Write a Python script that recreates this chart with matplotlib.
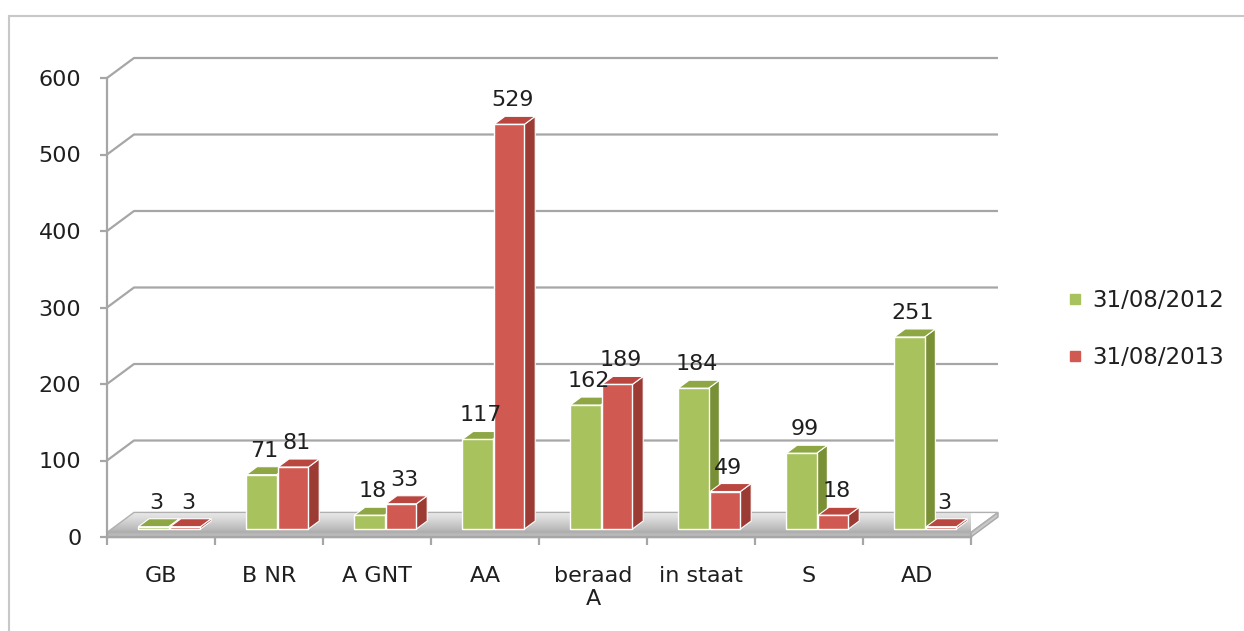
import matplotlib.pyplot as plt
from matplotlib.lines import Line2D
from matplotlib.patches import Rectangle, Polygon
import numpy as np

categories = ["GB", "B NR", "A GNT", "AA", "beraad\nA", "in staat", "S", "AD"]
series_names = ["31/08/2012", "31/08/2013"]
values_2012 = [3, 71, 18, 117, 162, 184, 99, 251]
values_2013 = [3, 81, 33, 529, 189, 49, 18, 3]
y_ticks = [0, 100, 200, 300, 400, 500, 600]

plt.rcParams['font.family'] = ['DejaVu Sans']
TXT = '#1f1f1f'
GRID = '#a6a6a6'

fig = plt.figure(figsize=(12.44, 6.31), dpi=100)
ax = fig.add_axes([107/1244, 94/631, 864/1244, 459/631])
ax.set_xlim(-0.5, 7.5)
ax.set_ylim(0, 600)

# fake depth: z=0 front plane, z=1 back wall
DX = 27/108
DY = 20/0.765
def proj(x, y, z):
    return x + z*DX, y + z*DY

n = len(categories)
x = np.arange(n)

# gridlines on side + back wall
for v in y_ticks[1:]:
    pts = [proj(-0.5, v, 0), proj(-0.5, v, 1), proj(n - 0.5, v, 1)]
    ax.plot([p[0] for p in pts], [p[1] for p in pts], color=GRID, lw=1.6,
            clip_on=False, zorder=1, solid_capstyle='butt')

# floor slab
H = 6
top = [proj(-0.5, H, 0), proj(n - 0.5, H, 0), proj(n - 0.5, H, 1), proj(-0.5, H, 1)]
front = [proj(-0.5, 0, 0), proj(n - 0.5, 0, 0), proj(n - 0.5, H, 0), proj(-0.5, H, 0)]
right = [proj(n - 0.5, 0, 0), proj(n - 0.5, 0, 1), proj(n - 0.5, H, 1), proj(n - 0.5, H, 0)]
top_poly = Polygon(top, closed=True, facecolor='none', edgecolor='#b0b0b0', lw=1,
                   clip_on=False, zorder=2.1)
ax.add_patch(top_poly)
grad = np.linspace(0, 1, 50)[:, None] * np.ones((1, 10))
im = ax.imshow(grad, extent=(-0.5, n - 0.5 + DX, H, H + DY), origin='lower',
               cmap='Greys_r', vmin=-2.2, vmax=1.6, aspect='auto', zorder=2,
               interpolation='bilinear')
im.set_clip_path(top_poly)
ax.fill(*zip(*front), facecolor='#b9b9b9', edgecolor='#a8a8a8', lw=1, clip_on=False, zorder=2)
ax.fill(*zip(*right), facecolor='#c9c9c9', edgecolor='#a8a8a8', lw=1, clip_on=False, zorder=2)
ax.set_xlim(-0.5, 7.5)
ax.set_ylim(0, 600)

# bars
Z0, Z1 = 0.4, 0.8
W = 0.28
offsets = [-0.31, -0.015]
colors = [('#a8c35d', '#8ea744', '#7a9036'), ('#d05a52', '#b9463f', '#9c3a34')]
for s, vals in enumerate([values_2012, values_2013]):
    fc, tc, sc = colors[s]
    zo = 3 + s
    x0 = x + offsets[s]
    ax.bar(x0 + Z0*DX, vals, W, bottom=Z0*DY, align='edge', color=fc,
           edgecolor='white', lw=1, clip_on=False, zorder=zo + 0.5)
    for xi, v in zip(x0, vals):
        topf = [proj(xi, v, Z0), proj(xi + W, v, Z0), proj(xi + W, v, Z1), proj(xi, v, Z1)]
        side = [proj(xi + W, 0, Z0), proj(xi + W, 0, Z1), proj(xi + W, v, Z1), proj(xi + W, v, Z0)]
        ax.fill(*zip(*side), facecolor=sc, edgecolor='white', lw=0.8, clip_on=False, zorder=zo)
        ax.fill(*zip(*topf), facecolor=tc, edgecolor='white', lw=0.8, clip_on=False, zorder=zo)
        ax.annotate(str(v), xy=(xi + W/2 + (Z0 + 0.12)*DX, v + Z0*DY), xytext=(0, 18),
                    textcoords='offset pixels', ha='center', va='baseline',
                    fontsize=16, color=TXT, zorder=10, annotation_clip=False)

# axes look
for sp in ['top', 'right']:
    ax.spines[sp].set_visible(False)
ax.spines['left'].set_color(GRID)
ax.spines['left'].set_linewidth(1.6)
ax.spines['bottom'].set_color(GRID)
ax.spines['bottom'].set_linewidth(1.6)
ax.set_yticks(y_ticks)
ax.tick_params(axis='y', direction='out', length=5, width=1.6, color=GRID,
               pad=13.5, labelsize=16, labelcolor=TXT)
ax.set_xticks(x)
ax.set_xticklabels(categories)
ax.set_xticks(np.arange(n + 1) - 0.5, minor=True)
ax.tick_params(axis='x', which='major', length=0, pad=21, labelsize=16, labelcolor=TXT)
ax.tick_params(axis='x', which='minor', direction='out', length=6, width=1.6, color=GRID)
ax.patch.set_alpha(0)

handles = [Line2D([], [], ls='none', marker='s', markersize=7, color=colors[i][0])
           for i in range(2)]
fig.legend(handles, series_names, loc='center left', bbox_to_anchor=(1066/1244, 0.479),
           frameon=False, fontsize=16.5, labelcolor=TXT, handlelength=0.8,
           handletextpad=0.35, labelspacing=1.5, borderpad=0, borderaxespad=0)

fig.patches.append(Rectangle((9/1244, -0.1), 1.2, 1 - 16/631 + 0.1, transform=fig.transFigure,
                             fill=False, edgecolor='#c8c8c8', lw=1.5, zorder=0))

fig.savefig('out.png', dpi=100)
